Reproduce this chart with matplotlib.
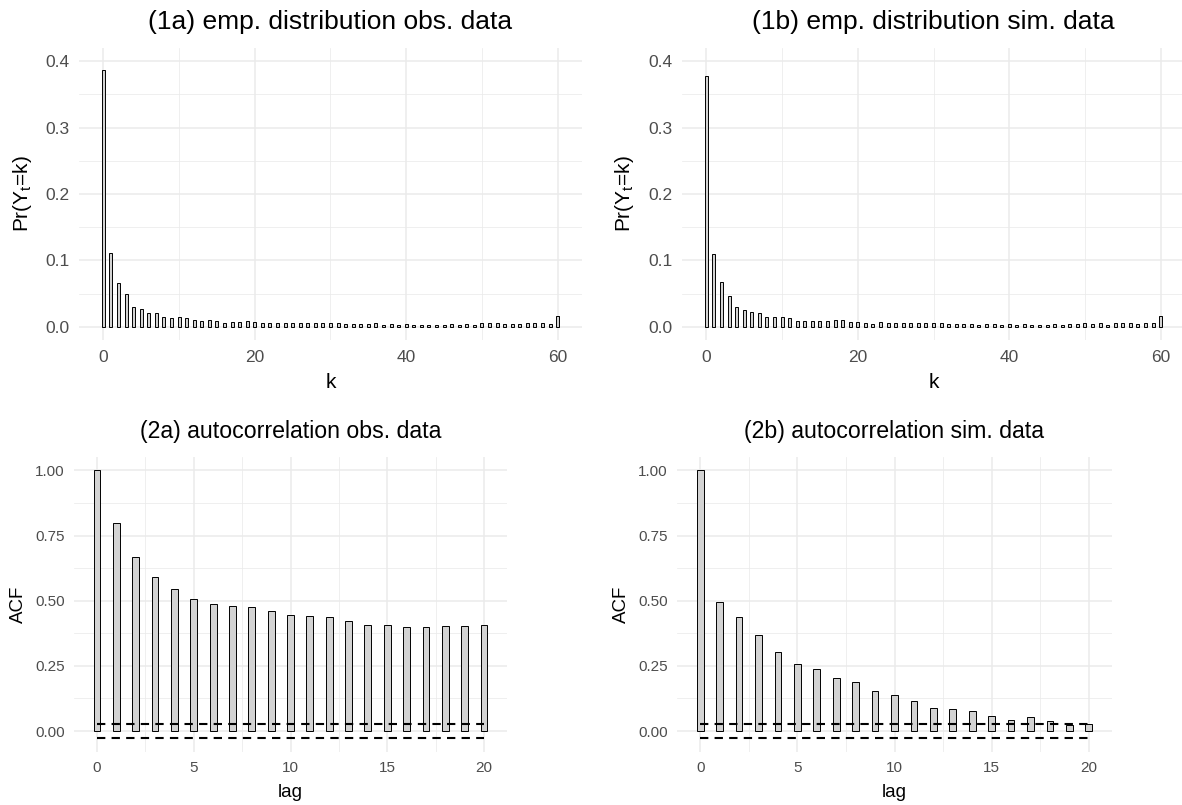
import matplotlib
matplotlib.use("Agg")
import matplotlib.pyplot as plt
import numpy as np

plt.rcParams['font.family'] = ['Liberation Sans', 'DejaVu Sans']
plt.rcParams['mathtext.fontset'] = 'custom'
plt.rcParams['mathtext.rm'] = 'Liberation Sans'
plt.rcParams['mathtext.it'] = 'Liberation Sans:italic'

# ---------------- data ----------------
k_values = list(range(61))
pmf_obs = [0.3865, 0.111, 0.0665, 0.049, 0.029, 0.026, 0.020, 0.020, 0.015, 0.0125,
           0.015, 0.0135, 0.0095, 0.0085, 0.0105, 0.0085, 0.006, 0.0075, 0.007, 0.008,
           0.007, 0.006, 0.006, 0.005, 0.006, 0.006, 0.006, 0.006, 0.006, 0.006,
           0.006, 0.005, 0.004, 0.004, 0.004, 0.004, 0.005, 0.003, 0.004, 0.003,
           0.004, 0.003, 0.003, 0.002, 0.003, 0.003, 0.004, 0.003, 0.004, 0.003,
           0.005, 0.005, 0.005, 0.004, 0.004, 0.004, 0.005, 0.005, 0.005, 0.004,
           0.016]
pmf_sim = [0.3775, 0.110, 0.0675, 0.0465, 0.029, 0.025, 0.0215, 0.0205, 0.015, 0.0145,
           0.0145, 0.0135, 0.008, 0.0085, 0.009, 0.0085, 0.009, 0.010, 0.0095, 0.0075,
           0.0075, 0.006, 0.004, 0.007, 0.006, 0.005, 0.005, 0.005, 0.005, 0.005,
           0.006, 0.005, 0.004, 0.004, 0.004, 0.004, 0.003, 0.004, 0.004, 0.003,
           0.004, 0.002, 0.004, 0.003, 0.003, 0.003, 0.004, 0.003, 0.004, 0.004,
           0.005, 0.004, 0.005, 0.003, 0.005, 0.005, 0.005, 0.004, 0.005, 0.005,
           0.016]

lags = list(range(21))
acf_obs = [1.0, 0.800, 0.668, 0.591, 0.546, 0.508, 0.488, 0.481, 0.476, 0.460,
           0.446, 0.442, 0.436, 0.424, 0.407, 0.405, 0.401, 0.401, 0.404, 0.404, 0.406]
acf_sim = [1.0, 0.496, 0.438, 0.369, 0.303, 0.257, 0.239, 0.203, 0.189, 0.153,
           0.137, 0.117, 0.090, 0.086, 0.077, 0.057, 0.042, 0.053, 0.040, 0.024, 0.027]
ci_obs = 0.027
ci_sim = 0.027

titles = ["(1a) emp. distribution obs. data", "(1b) emp. distribution sim. data",
          "(2a) autocorrelation obs. data", "(2b) autocorrelation sim. data"]

# ---------------- style ----------------
W, H = 1182, 805
fig = plt.figure(figsize=(W / 100, H / 100), dpi=100)
GRID = '#EBEBEB'
TICKC = '#4D4D4D'
BARFILL = '#D3D3D3'


def add_panel(left, top, right, bottom):
    return fig.add_axes([left / W, 1 - bottom / H, (right - left) / W, (bottom - top) / H])


def expand(lo, hi, f=0.05):
    d = (hi - lo) * f
    return lo - d, hi + d


def style(ax, xmaj, xmin, ymaj, ymin, yfmt, tsize, pad):
    for s in ax.spines.values():
        s.set_visible(False)
    ax.set_xticks(xmaj)
    ax.set_xticks(xmin, minor=True)
    ax.set_yticks(ymaj)
    ax.set_yticks(ymin, minor=True)
    ax.set_yticklabels([yfmt.format(v) for v in ymaj])
    ax.set_xticklabels([str(v) for v in xmaj])
    ax.grid(True, which='major', color=GRID, linewidth=1.1)
    ax.grid(True, which='minor', color=GRID, linewidth=0.55)
    ax.set_axisbelow(True)
    ax.tick_params(which='both', length=0, labelsize=tsize, labelcolor=TICKC, pad=pad)


def dist_panel(rect, kvals, probs, title, ylab):
    left, top, right, bottom = rect
    ax = add_panel(left, top, right, bottom)
    w = 0.4
    ax.bar(kvals, probs, width=w, color=BARFILL, edgecolor='black', linewidth=0.7)
    ax.set_xlim(*expand(min(kvals) - w / 2, max(kvals) + w / 2))
    ax.set_ylim(*expand(0, 0.4))
    style(ax, [0, 20, 40, 60], [10, 30, 50], [0.0, 0.1, 0.2, 0.3, 0.4],
          [0.05, 0.15, 0.25, 0.35], "{:.1f}", 12.5, 7)
    cx = (left + right) / 2
    fig.text(cx / W, 1 - (top - 26) / H, title, ha='center', va='center', fontsize=19)
    fig.text(cx / W, 1 - (bottom + 42) / H, 'k', ha='center', va='center', fontsize=15)
    fig.text((left - 57) / W, 1 - ((top + bottom) / 2) / H, ylab, ha='center',
             va='center', rotation=90, fontsize=15)
    return ax


def acf_panel(rect, lagv, acfv, ci, title):
    left, top, right, bottom = rect
    ax = add_panel(left, top, right, bottom)
    w = 0.35
    ax.bar(lagv, acfv, width=w, color=BARFILL, edgecolor='black', linewidth=0.7)
    ax.plot([min(lagv), max(lagv)], [ci, ci], color='black', linewidth=1.5,
            linestyle=(0, (4, 3)))
    ax.plot([min(lagv), max(lagv)], [-ci, -ci], color='black', linewidth=1.5,
            linestyle=(0, (4, 3)))
    ax.set_xlim(*expand(min(lagv) - w / 2, max(lagv) + w / 2))
    ax.set_ylim(*expand(-ci, max(acfv)))
    style(ax, [0, 5, 10, 15, 20], [2.5, 7.5, 12.5, 17.5],
          [0.0, 0.25, 0.5, 0.75, 1.0], [0.125, 0.375, 0.625, 0.875], "{:.2f}", 11, 6.5)
    cx = (left + right) / 2
    fig.text(cx / W, 1 - (top - 26) / H, title, ha='center', va='center', fontsize=16.7)
    fig.text(cx / W, 1 - (bottom + 40.5) / H, 'lag', ha='center', va='center', fontsize=13.5)
    fig.text((left - 56) / W, 1 - ((top + bottom) / 2) / H, 'ACF', ha='center',
             va='center', rotation=90, fontsize=13.5)
    return ax


ylab_dist = r'Pr(Y$_\mathrm{t}$=k)'
dist_panel((79, 48, 582, 340), k_values, pmf_obs, titles[0], ylab_dist)
dist_panel((682, 48, 1185, 340), k_values, pmf_sim, titles[1], ylab_dist)
acf_panel((74, 457, 507, 751.5), lags, acf_obs, ci_obs, titles[2])
acf_panel((677, 457, 1112, 751.5), lags, acf_sim, ci_sim, titles[3])

fig.savefig('out.png', dpi=100, facecolor='white')
